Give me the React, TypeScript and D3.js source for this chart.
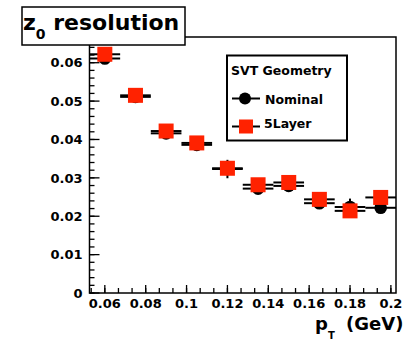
import * as d3 from "d3";

const binCenters = [0.06, 0.075, 0.09, 0.105, 0.12, 0.135, 0.15, 0.165, 0.18, 0.195];
const binHalfWidth = 0.0075;
const nominal = [0.0611, 0.0511, 0.0416, 0.0386, 0.0323, 0.0272, 0.0279, 0.0234, 0.0224, 0.0222];
const nominalErr = [0.0012, 0.001, 0.001, 0.001, 0.0024, 0.001, 0.001, 0.001, 0.0022, 0.001];
const fiveLayer = [0.0622, 0.0515, 0.0422, 0.0391, 0.0325, 0.0282, 0.0288, 0.0244, 0.0214, 0.0249];
const fiveLayerErr = [0.0012, 0.001, 0.001, 0.001, 0.0012, 0.001, 0.001, 0.001, 0.001, 0.001];

const xTicks = [0.06, 0.08, 0.1, 0.12, 0.14, 0.16, 0.18, 0.2];
const xTickLabels = ["0.06", "0.08", "0.1", "0.12", "0.14", "0.16", "0.18", "0.2"];
const yTicks = [0, 0.01, 0.02, 0.03, 0.04, 0.05, 0.06];
const yTickLabels = ["0", "0.01", "0.02", "0.03", "0.04", "0.05", "0.06"];

const legendTitle = "SVT Geometry";
const legendLabels = ["Nominal", "5Layer"];

const width = 409;
const height = 341;
const frame = { left: 89.5, right: 396, top: 37, bottom: 293 };
const red = "#ff2200";
const font = "DejaVu Sans, sans-serif";

const App = () => {
  const x = d3.scaleLinear().domain([0.0525, 0.2025]).range([frame.left, frame.right]);
  const y = d3.scaleLinear().domain([0, 0.0667]).range([frame.bottom, frame.top]);

  const xMinor = d3.range(0.06 - 0.02 / 3, 0.2025, 0.02 / 3).filter((v) => v > 0.0525);
  const yMinor = d3.range(0, 0.0667, 0.002);

  const errorBars = (vals: number[], errs: number[]) =>
    binCenters.map((c, i) => (
      <g key={i} stroke="#000" strokeWidth={2}>
        <line x1={x(c - binHalfWidth)} x2={x(c + binHalfWidth)} y1={y(vals[i])} y2={y(vals[i])} />
        <line x1={x(c)} x2={x(c)} y1={y(vals[i] - errs[i])} y2={y(vals[i] + errs[i])} />
      </g>
    ));

  return (
    <div style={{ position: "fixed", left: 0, top: 0 }}>
      <svg width={width} height={height} style={{ display: "block", background: "#fff" }}>
        {/* frame */}
        <rect
          x={frame.left}
          y={frame.top}
          width={frame.right - frame.left}
          height={frame.bottom - frame.top}
          fill="none"
          stroke="#000"
          strokeWidth={1.5}
        />

        {/* y ticks */}
        {yMinor.map((v, i) => (
          <line key={"ym" + i} x1={frame.left} x2={frame.left + 5} y1={y(v)} y2={y(v)} stroke="#000" strokeWidth={1.3} />
        ))}
        {yTicks.map((v, i) => (
          <g key={"y" + i}>
            <line x1={frame.left} x2={frame.left + 10} y1={y(v)} y2={y(v)} stroke="#000" strokeWidth={1.3} />
            <text
              x={frame.left - 7}
              y={y(v)}
              dy="0.36em"
              textAnchor="end"
              fontFamily={font}
              fontWeight="bold"
              fontSize={13}
            >
              {yTickLabels[i]}
            </text>
          </g>
        ))}

        {/* x ticks */}
        {xMinor.map((v, i) => (
          <line key={"xm" + i} x1={x(v)} x2={x(v)} y1={frame.bottom} y2={frame.bottom - 5} stroke="#000" strokeWidth={1.3} />
        ))}
        {xTicks.map((v, i) => (
          <g key={"x" + i}>
            <line x1={x(v)} x2={x(v)} y1={frame.bottom} y2={frame.bottom - 8} stroke="#000" strokeWidth={1.3} />
            <text
              x={x(v)}
              y={frame.bottom + 14.5}
              textAnchor="middle"
              fontFamily={font}
              fontWeight="bold"
              fontSize={13}
            >
              {xTickLabels[i]}
            </text>
          </g>
        ))}

        {/* x axis title */}
        <g fontFamily={font} fontWeight="bold">
          <text x={315} y={330} fontSize={18}>p</text>
          <text x={328} y={339} fontSize={10}>T</text>
          <text x={346} y={330} fontSize={18}>(GeV)</text>
        </g>

        {/* Nominal */}
        {errorBars(nominal, nominalErr)}
        {binCenters.map((c, i) => (
          <circle key={"n" + i} cx={x(c)} cy={y(nominal[i])} r={6.3} fill="#000" />
        ))}

        {/* 5Layer */}
        {errorBars(fiveLayer, fiveLayerErr)}
        {binCenters.map((c, i) => (
          <rect key={"f" + i} x={x(c) - 7.5} y={y(fiveLayer[i]) - 7.5} width={15} height={15} fill={red} />
        ))}

        {/* legend */}
        <rect x={227} y={55.5} width={120} height={85} fill="#fff" stroke="#000" strokeWidth={2} />
        <text x={231} y={75} fontFamily={font} fontWeight="bold" fontSize={12.5}>
          {legendTitle}
        </text>
        <line x1={232} x2={260} y1={98.5} y2={98.5} stroke="#000" strokeWidth={2} />
        <circle cx={245} cy={98.5} r={6} fill="#000" />
        <text x={265} y={104} fontFamily={font} fontWeight="bold" fontSize={12.5}>
          {legendLabels[0]}
        </text>
        <line x1={232} x2={260} y1={126.5} y2={126.5} stroke="#000" strokeWidth={2} />
        <rect x={239} y={119.5} width={14} height={14} fill={red} />
        <text x={264} y={128} fontFamily={font} fontWeight="bold" fontSize={12.5}>
          {legendLabels[1]}
        </text>

        {/* title */}
        <rect x={22} y={7} width={163} height={38} fill="#fff" stroke="#000" strokeWidth={1.5} />
        <text x={23} y={30} fontFamily={font} fontWeight="bold" fontSize={22}>
          <tspan>z</tspan>
          <tspan dy={9} fontSize={14}>0</tspan>
          <tspan dy={-9}> resolution</tspan>
        </text>
      </svg>
    </div>
  );
};

export default App;
